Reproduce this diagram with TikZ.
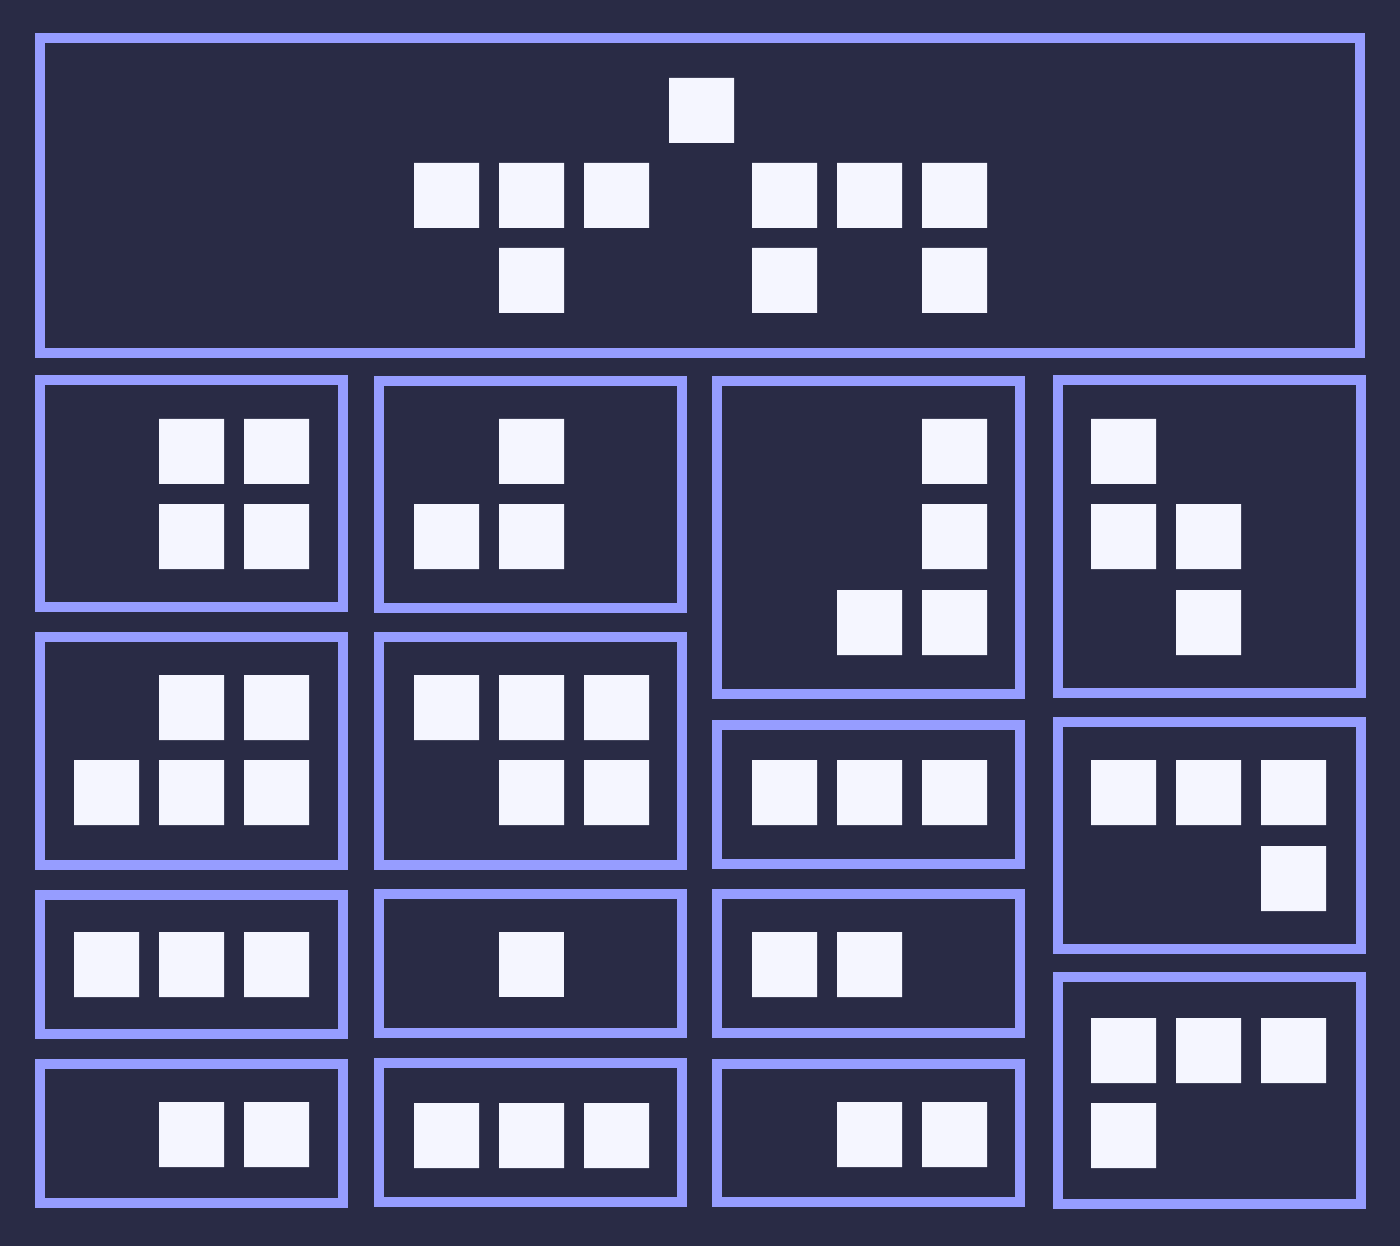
\documentclass[tikz,border=0pt]{standalone}
\usepackage{tikz}

\definecolor{bgnavy}{RGB}{41,43,69}
\definecolor{frame}{RGB}{150,157,255}
\definecolor{tile}{RGB}{245,246,255}

\tikzset{
    frm/.style={draw=frame, line width=0.1cm},
    tl/.style={fill=tile},
}

\begin{document}
\begin{tikzpicture}[x=0.01cm, y=-0.01cm]
            \fill[bgnavy] (0,0) rectangle (1400,1246);
            \useasboundingbox (0,0) rectangle (1400,1246);

            % top piece
            \draw[frm] (40,38) rectangle (1360,353);
            \fill[tl] (669,78) rectangle +(65,65)
                (414,163) rectangle +(65,65) (499,163) rectangle +(65,65) (584,163) rectangle +(65,65)
                (752,163) rectangle +(65,65) (837,163) rectangle +(65,65) (922,163) rectangle +(65,65)
                (499,248) rectangle +(65,65) (752,248) rectangle +(65,65) (922,248) rectangle +(65,65);

            % first column
            \draw[frm] (40,380) rectangle (343,607);
            \fill[tl] (159,419) rectangle +(65,65) (244,419) rectangle +(65,65)
                (159,504) rectangle +(65,65) (244,504) rectangle +(65,65);
            \draw[frm] (40,637) rectangle (343,865);
            \fill[tl] (159,675) rectangle +(65,65) (244,675) rectangle +(65,65)
                (74,760) rectangle +(65,65) (159,760) rectangle +(65,65) (244,760) rectangle +(65,65);
            \draw[frm] (40,895) rectangle (343,1034);
            \fill[tl] (74,932) rectangle +(65,65) (159,932) rectangle +(65,65) (244,932) rectangle +(65,65);
            \draw[frm] (40,1064) rectangle (343,1203);
            \fill[tl] (159,1102) rectangle +(65,65) (244,1102) rectangle +(65,65);

            % second column
            \draw[frm] (379,381) rectangle (682,608);
            \fill[tl] (499,419) rectangle +(65,65)
                (414,504) rectangle +(65,65) (499,504) rectangle +(65,65);
            \draw[frm] (379,637) rectangle (682,865);
            \fill[tl] (414,675) rectangle +(65,65) (499,675) rectangle +(65,65) (584,675) rectangle +(65,65)
                (499,760) rectangle +(65,65) (584,760) rectangle +(65,65);
            \draw[frm] (379,894) rectangle (682,1033);
            \fill[tl] (499,932) rectangle +(65,65);
            \draw[frm] (379,1063) rectangle (682,1202);
            \fill[tl] (414,1103) rectangle +(65,65) (499,1103) rectangle +(65,65) (584,1103) rectangle +(65,65);

            % third column
            \draw[frm] (717,381) rectangle (1020,694);
            \fill[tl] (922,419) rectangle +(65,65) (922,504) rectangle +(65,65)
                (837,590) rectangle +(65,65) (922,590) rectangle +(65,65);
            \draw[frm] (717,725) rectangle (1020,864);
            \fill[tl] (752,760) rectangle +(65,65) (837,760) rectangle +(65,65) (922,760) rectangle +(65,65);
            \draw[frm] (717,894) rectangle (1020,1033);
            \fill[tl] (752,932) rectangle +(65,65) (837,932) rectangle +(65,65);
            \draw[frm] (717,1064) rectangle (1020,1202);
            \fill[tl] (837,1102) rectangle +(65,65) (922,1102) rectangle +(65,65);

            % fourth column
            \draw[frm] (1058,380) rectangle (1361,693);
            \fill[tl] (1091,419) rectangle +(65,65)
                (1091,504) rectangle +(65,65) (1176,504) rectangle +(65,65)
                (1176,590) rectangle +(65,65);
            \draw[frm] (1058,722) rectangle (1361,949);
            \fill[tl] (1091,760) rectangle +(65,65) (1176,760) rectangle +(65,65) (1261,760) rectangle +(65,65)
                (1261,846) rectangle +(65,65);
            \draw[frm] (1058,977) rectangle (1361,1204);
            \fill[tl] (1091,1018) rectangle +(65,65) (1176,1018) rectangle +(65,65) (1261,1018) rectangle +(65,65)
                (1091,1103) rectangle +(65,65);
        \end{tikzpicture}
\end{document}
